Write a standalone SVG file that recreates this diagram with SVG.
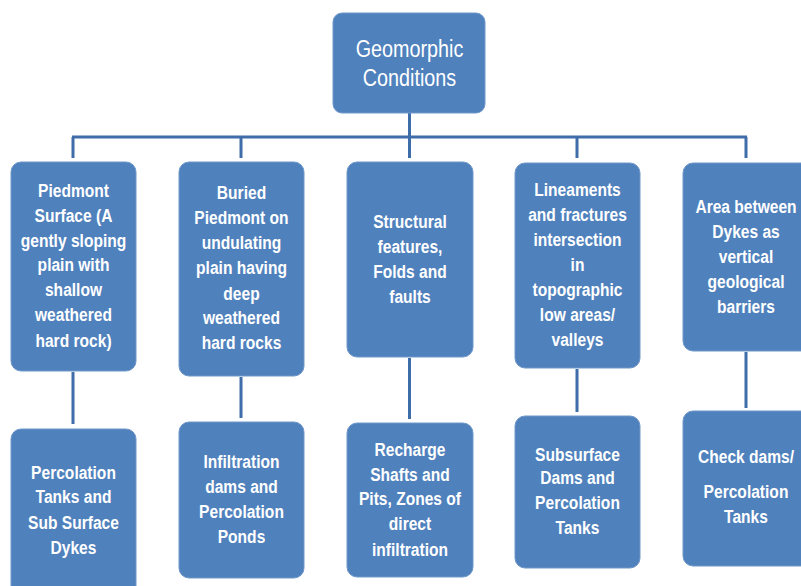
<svg xmlns="http://www.w3.org/2000/svg" width="801" height="586" viewBox="0 0 801 586">
<style>
.box{fill:#4F81BD;stroke:#6F97C9;stroke-width:1}
.t{font-family:"Liberation Sans",Arial,sans-serif;font-weight:bold;font-size:19px;fill:#FFFFFF;text-anchor:middle}
.title{font-family:"Liberation Sans",Arial,sans-serif;font-weight:normal;font-size:23px;fill:#FFFFFF;text-anchor:middle}
.c{stroke:#3F6DAA;stroke-width:3;fill:none}
</style>
<rect width="801" height="586" fill="#FFFFFF"/>
<g id="connectors">
<path class="c" d="M409.5 113 V137 M72 137 H747 M73 137 V158 M241 137 V158 M409.5 137 V158 M577 137 V158 M746 137 V158"/>
<path class="c" d="M73 372 V424 M241 377 V418 M409.5 358 V419 M577 369 V412 M746 352 V408"/>
</g>
<g id="root">
<rect class="box" x="333" y="13" width="152" height="100" rx="9"/>
<g transform="translate(409.5 0) scale(0.86 1)">
<text class="title" x="0" y="57">Geomorphic</text>
<text class="title" x="0" y="86">Conditions</text>
</g>
</g>
<g id="n1">
<rect class="box" x="11" y="162" width="125" height="209" rx="10"/>
<g transform="translate(73.5 0) scale(0.82 1)">
<text class="t" x="0" y="197">Piedmont</text>
<text class="t" x="0" y="222">Surface (A</text>
<text class="t" x="0" y="247">gently sloping</text>
<text class="t" x="0" y="271">plain with</text>
<text class="t" x="0" y="296">shallow</text>
<text class="t" x="0" y="321">weathered</text>
<text class="t" x="0" y="347">hard rock)</text>
</g>
</g>
<g id="n2">
<rect class="box" x="179" y="162" width="125" height="214" rx="10"/>
<g transform="translate(241.5 0) scale(0.82 1)">
<text class="t" x="0" y="199">Buried</text>
<text class="t" x="0" y="224">Piedmont on</text>
<text class="t" x="0" y="249">undulating</text>
<text class="t" x="0" y="274">plain having</text>
<text class="t" x="0" y="300">deep</text>
<text class="t" x="0" y="324">weathered</text>
<text class="t" x="0" y="349">hard rocks</text>
</g>
</g>
<g id="n3">
<rect class="box" x="347" y="162" width="126" height="195" rx="10"/>
<g transform="translate(410 0) scale(0.82 1)">
<text class="t" x="0" y="228">Structural</text>
<text class="t" x="0" y="253">features,</text>
<text class="t" x="0" y="278">Folds and</text>
<text class="t" x="0" y="303">faults</text>
</g>
</g>
<g id="n4">
<rect class="box" x="515" y="163" width="125" height="205" rx="10"/>
<g transform="translate(577.5 0) scale(0.82 1)">
<text class="t" x="0" y="196">Lineaments</text>
<text class="t" x="0" y="221">and fractures</text>
<text class="t" x="0" y="246">intersection</text>
<text class="t" x="0" y="271">in</text>
<text class="t" x="0" y="296">topographic</text>
<text class="t" x="0" y="321">low areas/</text>
<text class="t" x="0" y="346">valleys</text>
</g>
</g>
<g id="n5">
<rect class="box" x="683" y="163" width="128" height="188" rx="10"/>
<g transform="translate(746 0) scale(0.82 1)">
<text class="t" x="0" y="213">Area between</text>
<text class="t" x="0" y="238">Dykes as</text>
<text class="t" x="0" y="263">vertical</text>
<text class="t" x="0" y="288">geological</text>
<text class="t" x="0" y="313">barriers</text>
</g>
</g>
<g id="m1">
<rect class="box" x="11" y="429" width="125" height="170" rx="10"/>
<g transform="translate(73.5 0) scale(0.82 1)">
<text class="t" x="0" y="479">Percolation</text>
<text class="t" x="0" y="503">Tanks and</text>
<text class="t" x="0" y="529">Sub Surface</text>
<text class="t" x="0" y="554">Dykes</text>
</g>
</g>
<g id="m2">
<rect class="box" x="179" y="422" width="125" height="156" rx="10"/>
<g transform="translate(241.5 0) scale(0.82 1)">
<text class="t" x="0" y="468">Infiltration</text>
<text class="t" x="0" y="493">dams and</text>
<text class="t" x="0" y="518">Percolation</text>
<text class="t" x="0" y="543">Ponds</text>
</g>
</g>
<g id="m3">
<rect class="box" x="347" y="423" width="126" height="154" rx="10"/>
<g transform="translate(410 0) scale(0.82 1)">
<text class="t" x="0" y="456">Recharge</text>
<text class="t" x="0" y="481">Shafts and</text>
<text class="t" x="0" y="505">Pits, Zones of</text>
<text class="t" x="0" y="530">direct</text>
<text class="t" x="0" y="556">infiltration</text>
</g>
</g>
<g id="m4">
<rect class="box" x="515" y="416" width="125" height="152" rx="10"/>
<g transform="translate(577.5 0) scale(0.82 1)">
<text class="t" x="0" y="461">Subsurface</text>
<text class="t" x="0" y="484">Dams and</text>
<text class="t" x="0" y="509">Percolation</text>
<text class="t" x="0" y="534">Tanks</text>
</g>
</g>
<g id="m5">
<rect class="box" x="683" y="411" width="128" height="155" rx="10"/>
<g transform="translate(746 0) scale(0.82 1)">
<text class="t" x="0" y="463">Check dams/</text>
<text class="t" x="0" y="498">Percolation</text>
<text class="t" x="0" y="523">Tanks</text>
</g>
</g>
</svg>
